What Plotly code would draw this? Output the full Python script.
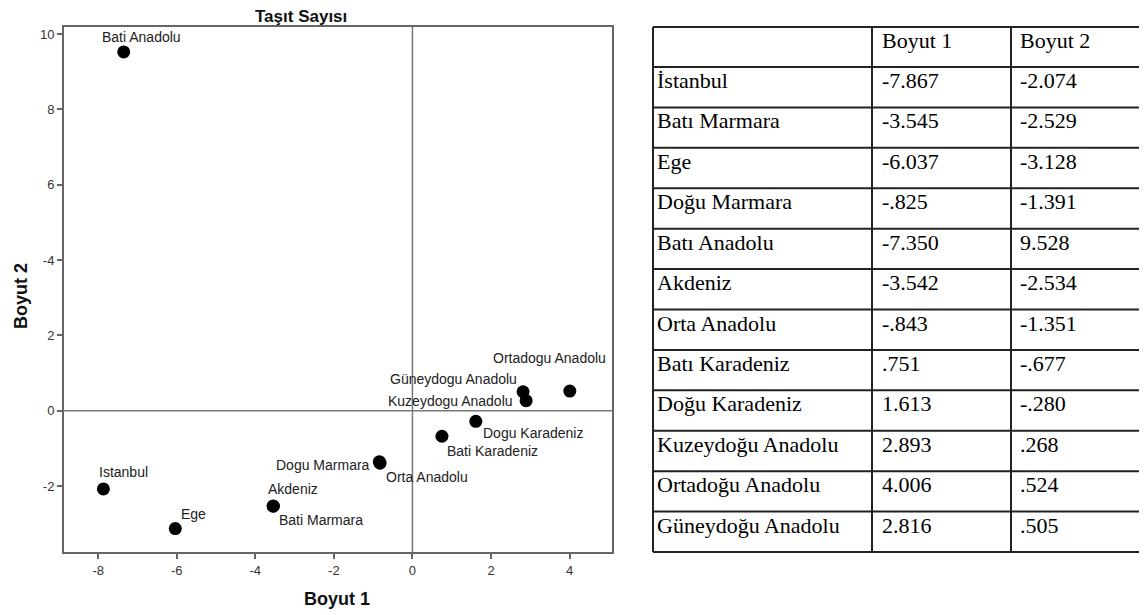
import plotly.graph_objects as go

# the page body adds an 8px margin, so the figure is laid out in screen px minus 8
OFF = 8
W, H = 1147 - OFF, 615 - OFF

# data
table_names = ["İstanbul", "Batı Marmara", "Ege", "Doğu Marmara", "Batı Anadolu",
               "Akdeniz", "Orta Anadolu", "Batı Karadeniz", "Doğu Karadeniz",
               "Kuzeydoğu Anadolu", "Ortadoğu Anadolu", "Güneydoğu Anadolu"]
plot_names = ["Istanbul", "Bati Marmara", "Ege", "Dogu Marmara", "Bati Anadolu",
              "Akdeniz", "Orta Anadolu", "Bati Karadeniz", "Dogu Karadeniz",
              "Kuzeydogu Anadolu", "Ortadogu Anadolu", "Güneydogu Anadolu"]
boyut1 = [-7.867, -3.545, -6.037, -0.825, -7.350, -3.542, -0.843, 0.751, 1.613, 2.893, 4.006, 2.816]
boyut2 = [-2.074, -2.529, -3.128, -1.391, 9.528, -2.534, -1.351, -0.677, -0.280, 0.268, 0.524, 0.505]
table_header = ["", "Boyut 1", "Boyut 2"]

x_ticks = [-8, -6, -4, -2, 0, 2, 4]
y_ticks = [10, 8, 6, 4, 2, 0, -2]
y_tick_text = ["10", "8", "6", "-4", "2", "0", "-2"]  # as printed in the source image

# label placement (anchor, x shift, y shift in px) per point
label_pos = [
    ("left", -6, 17), ("left", 4, -14), ("left", 4, 15), ("right", -8, -2),
    ("left", -24, 15), ("left", -7, 17), ("left", 5, -15), ("left", 3, -15),
    ("left", 5, -12), ("right", -11, 0), ("left", -79, 33), ("right", -4, 13),
]


def spss(v):
    s = f"{v:.3f}"
    if s.startswith("0."):
        return s[1:]
    if s.startswith("-0."):
        return "-" + s[2:]
    return s


def px_x(p):
    return (p - OFF) / W


def px_y(p):
    return 1 - (p - OFF) / H


fig = go.Figure()

fig.add_trace(go.Scatter(
    x=boyut1, y=boyut2, mode="markers",
    marker=dict(size=13, color="black"),
    hoverinfo="text", text=plot_names, showlegend=False,
))

annotations = []
for name, xv, yv, (anc, dx, dy) in zip(plot_names, boyut1, boyut2, label_pos):
    annotations.append(dict(
        x=xv, y=yv, text=name, showarrow=False,
        xanchor=anc, yanchor="middle", xshift=dx, yshift=dy,
        font=dict(family="Liberation Sans, Arial", size=14, color="#222"),
    ))

shapes = [
    dict(type="line", xref="paper", yref="y", x0=px_x(64), x1=px_x(612), y0=0, y1=0,
         line=dict(color="#777", width=1.5)),
    dict(type="line", xref="x", yref="paper", x0=0, x1=0, y0=px_y(552), y1=px_y(27),
         line=dict(color="#777", width=1.5)),
]

# table drawn with lines + text
tab_left, tab_right = 653, 1160
col_edges = [653, 872, 1011]
col_text_x = [655, 880, 1018]
tab_top, head_h, tab_bottom = 27, 40, 552
n_rows = len(table_names)
row_h = (tab_bottom - tab_top - head_h) / n_rows
row_tops = [tab_top] + [tab_top + head_h + i * row_h for i in range(n_rows)]
tfont = dict(family="Liberation Serif, Times New Roman", size=22, color="black")
tline = dict(color="#222", width=2)

for yy in row_tops + [tab_bottom]:
    shapes.append(dict(type="line", xref="paper", yref="paper",
                       x0=px_x(tab_left), x1=px_x(tab_right), y0=px_y(yy), y1=px_y(yy), line=tline))
for xx in col_edges:
    shapes.append(dict(type="line", xref="paper", yref="paper",
                       x0=px_x(xx), x1=px_x(xx), y0=px_y(tab_top), y1=px_y(tab_bottom), line=tline))

columns = [table_names, [spss(v) for v in boyut1], [spss(v) for v in boyut2]]
rows = [table_header] + [list(r) for r in zip(*columns)]
for top, row in zip(row_tops, rows):
    for cx, txt in zip(col_text_x, row):
        if not txt:
            continue
        annotations.append(dict(
            text=txt, x=px_x(cx), y=px_y(top + 13.5), xref="paper", yref="paper",
            showarrow=False, xanchor="left", yanchor="middle", font=tfont,
        ))

annotations += [
    dict(text="<b>Taşıt Sayısı</b>", x=px_x(301), y=px_y(17), xref="paper", yref="paper",
         showarrow=False, xanchor="center", yanchor="middle", borderpad=0,
         font=dict(family="Liberation Sans, Arial", size=17, color="#111")),
    dict(text="<b>Boyut 1</b>", x=px_x(337), y=px_y(599), xref="paper", yref="paper",
         showarrow=False, xanchor="center", yanchor="middle",
         font=dict(family="Liberation Sans, Arial", size=18, color="#111")),
    dict(text="<b>Boyut 2</b>", x=px_x(21), y=px_y(296), xref="paper", yref="paper",
         showarrow=False, xanchor="center", yanchor="middle", textangle=-90, borderpad=0,
         font=dict(family="Liberation Sans, Arial", size=18, color="#111")),
]

axis_common = dict(
    showgrid=False, zeroline=False, showline=True, mirror=True,
    linecolor="#666", linewidth=2, ticks="outside", ticklen=5,
    tickcolor="#666", tickwidth=1.5,
    tickfont=dict(family="Liberation Sans, Arial", size=13, color="#333"),
)

fig.update_layout(
    width=W, height=H,
    margin=dict(l=0, r=0, t=0, b=0),
    paper_bgcolor="white", plot_bgcolor="white",
    xaxis=dict(domain=[px_x(64), px_x(612)], range=[-8.87, 5.08],
               tickvals=x_ticks, ticktext=[str(v) for v in x_ticks], **axis_common),
    yaxis=dict(domain=[px_y(552), px_y(27)], range=[-3.75, 10.19],
               tickvals=y_ticks, ticktext=y_tick_text, **axis_common),
    shapes=shapes,
    annotations=annotations,
)

fig.write_html("out.html")
